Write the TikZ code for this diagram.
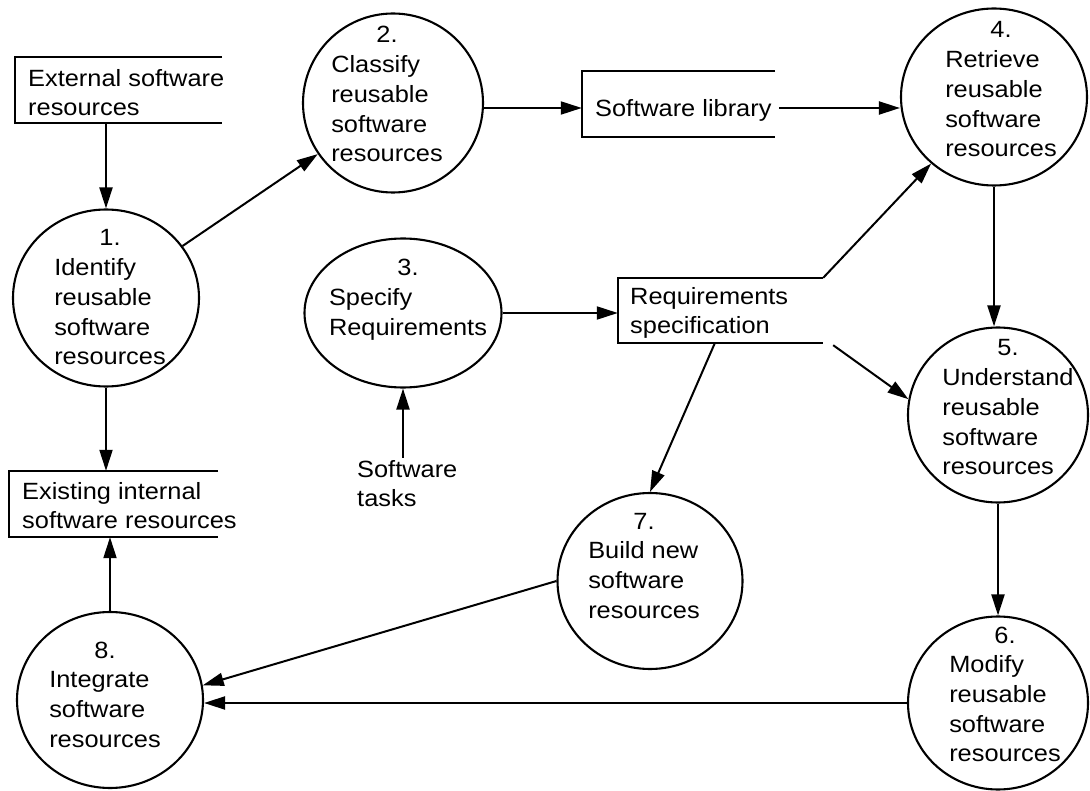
\documentclass[tikz,border=0pt]{standalone}
\usepackage{fontspec}
\setmainfont{Liberation Sans}[FakeStretch=1.08]
\usetikzlibrary{arrows.meta,shapes.geometric,calc}
\newcommand\proctext[2]{\begin{tabular}[t]{@{}l@{}}\multicolumn{1}{@{}c@{}}{#1}\\#2\end{tabular}}
\newcommand\storetext[1]{\begin{tabular}[t]{@{}l@{}}#1\end{tabular}}
\begin{document}
\begin{tikzpicture}[x=1pt,y=-1pt,
  every node/.style={font=\fontsize{23.5}{29.7}\selectfont, inner sep=0pt},
  proc/.style={draw, ellipse, line width=2.1pt, inner sep=0pt},
  store/.style={rectangle, inner sep=0pt},
  storeline/.style={line width=2.1pt},
  lbl/.style={anchor=base},
  slbl/.style={anchor=base west},
  arr/.style={-{Triangle[length=21pt,width=13pt]}, line width=2pt}]
\useasboundingbox (0,0) rectangle (1090,791);
% processes
\node[proc, minimum width=186, minimum height=177] (p1) at (106,298) {};
\node[proc, minimum width=180, minimum height=179] (p2) at (393,103) {};
\node[proc, minimum width=197, minimum height=149] (p3) at (403,313) {};
\node[proc, minimum width=186, minimum height=177] (p4) at (994,97) {};
\node[proc, minimum width=180, minimum height=175] (p5) at (998,415) {};
\node[proc, minimum width=180, minimum height=173] (p6) at (998,703) {};
\node[proc, minimum width=185, minimum height=176] (p7) at (650,581) {};
\node[proc, minimum width=186, minimum height=176] (p8) at (110,700) {};
\node[lbl] (t1) at (110,246) {\proctext{1.}{Identify\\reusable\\software\\resources}};
\node[lbl] (t2) at (387,43) {\proctext{2.}{Classify\\reusable\\software\\resources}};
\node[lbl] (t3) at (408,276) {\proctext{3.}{Specify\\Requirements}};
\node[lbl] (t4) at (1001,38) {\proctext{4.}{Retrieve\\reusable\\software\\resources}};
\node[lbl] (t5) at (1008,356) {\proctext{5.}{Understand\\reusable\\software\\resources}};
\node[lbl] (t6) at (1005,643) {\proctext{6.}{Modify\\reusable\\software\\resources}};
\node[lbl] (t7) at (644,529) {\proctext{7.}{Build new\\software\\resources}};
\node[lbl] (t8) at (105,658) {\proctext{8.}{Integrate\\software\\resources}};
% stores
\node[store, minimum width=207, minimum height=66] (ext) at (118.5,90) {};
\node[store, minimum width=193, minimum height=66] (lib) at (678.5,104) {};
\node[store, minimum width=205, minimum height=65] (req) at (720.5,310.5) {};
\node[store, minimum width=209, minimum height=66] (exi) at (113.5,504) {};
\foreach \s in {ext,lib,req,exi}
  \draw[storeline] (\s.north east) -- (\s.north west) -- (\s.south west) -- (\s.south east);
\begingroup
\def\arraystretch{0.96}
\node[slbl] (exttext) at (28,86.7) {\storetext{External software\\resources}};
\node[slbl] (libtext) at (595,116.7) {\storetext{Software library}};
\node[slbl] (reqtext) at (630,305) {\storetext{Requirements\\specification}};
\node[slbl] (exitext) at (22,500) {\storetext{Existing internal\\software resources}};
\node[slbl] (tasks) at (357,478) {\storetext{Software\\tasks}};
\endgroup
% flows
\coordinate (lw) at ($(lib.west)+(0,4)$);
\coordinate (le) at ($(lib.east)+(4,4)$);
\draw[arr] (p1 |- ext.south) -- (p1.north);
\draw[arr] (p1) -- (p2);
\draw[arr] (p2.east |- lw) -- (lw);
\draw[arr] (le) -- (p4.west |- le);
\draw[arr] (p3) -- (p3 -| req.west);
\draw[arr] (p3 |- tasks.north) -- (p3.south);
\draw[arr] (req.north east) -- (p4);
\draw[arr] ($(req.south east)+(10,2)$) -- (p5.170);
\draw[arr] ($(req.south west)+(97,0)$) -- (p7.north);
\draw[arr] (p4.south) -- (p4.south |- p5.north);
\draw[arr] (p5.south) -- (p5.south |- p6.north);
\draw[arr] (p7.west) -- (p8.9);
\draw[arr] (p6.west) -- (p6.west -| p8.east);
\draw[arr] (p1.south) -- (p1.south |- exi.north);
\draw[arr] (p8.north) -- (p8.north |- exi.south);
\end{tikzpicture}
\end{document}
